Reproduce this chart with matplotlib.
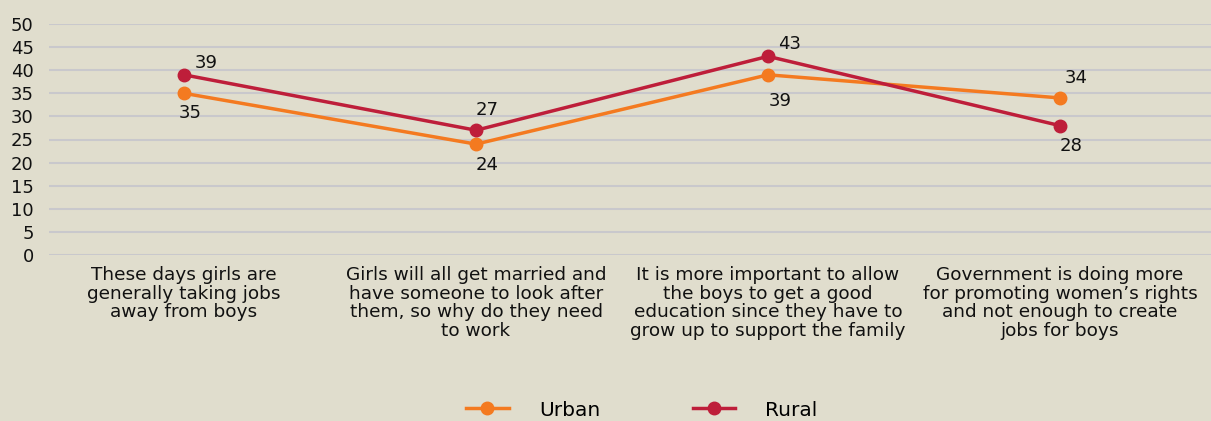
import matplotlib
matplotlib.use('Agg')
import matplotlib.pyplot as plt

categories = [
    "These days girls are\ngenerally taking jobs\naway from boys",
    "Girls will all get married and\nhave someone to look after\nthem, so why do they need\nto work",
    "It is more important to allow\nthe boys to get a good\neducation since they have to\ngrow up to support the family",
    "Government is doing more\nfor promoting women\u2019s rights\nand not enough to create\njobs for boys",
]
urban = [35, 24, 39, 34]
rural = [39, 27, 43, 28]

# label offsets in pixels (dx, dy) for each point
urban_offsets = [(6, -20), (11, -21), (12, -26), (16, 20)]
rural_offsets = [(22, 12), (11, 20), (22, 12), (11, -20)]

bg = '#E0DDCD'
orange = '#F47A20'
red = '#BE1E3A'

plt.rcParams['font.family'] = ['DejaVu Sans']

fig = plt.figure(figsize=(12.11, 4.21), dpi=100, facecolor=bg)
ax = fig.add_axes([49 / 1211, (421 - 255) / 421, (1211 - 49) / 1211, (255 - 24) / 421])
ax.set_facecolor(bg)

x = list(range(len(categories)))
ax.plot(x, urban, color=orange, lw=2.5, marker='o', ms=9, label='Urban', zorder=3)
ax.plot(x, rural, color=red, lw=2.5, marker='o', ms=9, label='Rural', zorder=3)

for i in x:
    ax.annotate(str(urban[i]), (i, urban[i]), xytext=urban_offsets[i],
                textcoords='offset pixels', ha='center', va='center',
                fontsize=13, color='#111111')
    ax.annotate(str(rural[i]), (i, rural[i]), xytext=rural_offsets[i],
                textcoords='offset pixels', ha='center', va='center',
                fontsize=13, color='#111111')

ax.set_ylim(0, 50)
ax.set_yticks(range(0, 51, 5))
ax.set_xlim(-135 / 292, (1211 - 184) / 292)
ax.set_xticks(x)
ax.set_xticklabels(categories, fontsize=13.3, linespacing=1.04)
ax.tick_params(axis='both', length=0, colors='#111111')
ax.tick_params(axis='y', pad=11, labelsize=13)
ax.tick_params(axis='x', pad=8)
ax.grid(axis='y', color='#C9C8CC', lw=1.5)
ax.set_axisbelow(True)
for s in ax.spines.values():
    s.set_visible(False)

fig.legend(loc='center', bbox_to_anchor=(0.53, 11 / 421), ncol=2, frameon=False,
           fontsize=14.5, handlelength=2.1, columnspacing=4.6, handletextpad=1.5)

fig.savefig('out.png', dpi=100, facecolor=bg)
